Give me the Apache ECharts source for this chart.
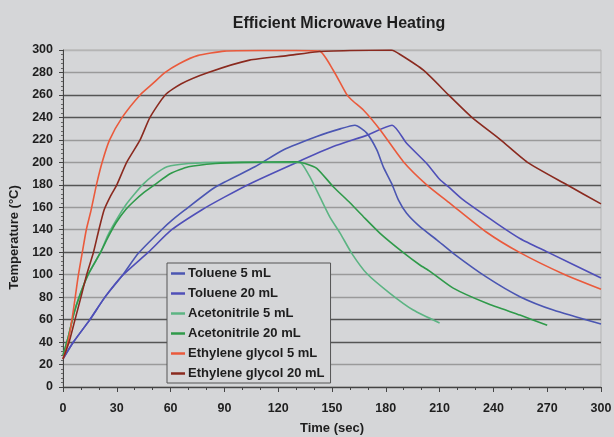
<!DOCTYPE html>
<html>
<head>
<meta charset="utf-8">
<script src="https://cdn.jsdelivr.net/npm/echarts@6/dist/echarts.min.js"></script>
<style>
  html, body { margin: 0; padding: 0; background: #d5d6d8; }
  #chart { width: 614px; height: 437px; }
</style>
</head>
<body>
<div id="chart"></div>
<script>
// series names, in legend order
var seriesNames = ['Toluene 5 mL', 'Toluene 20 mL', 'Acetonitrile 5 mL', 'Acetonitrile 20 mL', 'Ethylene glycol 5 mL', 'Ethylene glycol 20 mL'];

// [time (sec), temperature (°C)]
var toluene5 = [[0,25],[5.8,40],[15,60],[23.4,80],[33,99],[42,119],[55,140],[61,148.7],[68,157.6],[85,178],[107,196],[122.8,211],[141.5,223],[155,230],[162.8,233],[169.4,226],[175,211],[178.6,196],[183.3,181],[187,166.5],[191.6,154.6],[199,142.7],[208.4,131],[217.6,119],[236,98],[254.8,80.4],[273.4,68.5],[300,56]];
var toluene20 = [[0,25],[5.8,40],[15,60],[23.4,80],[33,99],[47.6,120],[60.6,140],[77.3,157.6],[90,169],[104.3,181],[130,199.7],[150.7,214],[169.3,224],[183.5,233],[191.6,217],[202.8,199],[210,185],[215.8,177],[223.2,166.5],[241.8,145.7],[255,132],[269.7,120.5],[300,97]];
var acetonitrile5 = [[0,28],[3,45],[6,65],[9,80],[14,100],[21,120],[25,135],[29.5,148],[35,162],[40,172],[45,181],[50,188],[58,196],[70,199],[90,200],[130,200],[133,199],[137.7,187],[143.3,169],[148.9,151],[154.5,137],[161,119],[169.4,101],[182.3,83.4],[195.3,68.5],[210,57]];
var acetonitrile20 = [[0,28],[3,45],[6,65],[9,80],[14,100],[21,120],[25,133],[29.5,146],[35,158],[40,166],[45,173],[51,180],[60,190],[70,196],[85,199],[100,200],[130,200.5],[135,199],[141.5,194.7],[150.7,178.3],[160,164],[167.5,151.6],[176.8,136.8],[189.8,119.6],[199,108.6],[204.6,103],[217.6,88],[236.3,74.5],[254.8,64],[270,55]];
var glycol5 = [[0,25],[1.5,32],[3,42],[5,60],[7,82],[8.6,100],[11,122],[13,140],[15.6,157],[18.8,181],[22,201],[26,220],[33,240],[43,260],[50,270],[57,280],[65,288],[75,295],[90,299],[110,299.5],[130,299.5],[143,299],[150.7,282],[158,261],[161,255.5],[167.5,246.6],[176.8,229],[189.8,200.6],[202.8,180],[215.8,163.5],[236,138],[254.8,119.6],[279,100.6],[300,87]];
var glycol20 = [[0,25],[3.4,40],[6.7,60],[10,80],[13.2,100],[17,120],[20,140],[23,158],[26.5,170],[30,180],[35.5,200],[43,220],[48.5,240],[57,260],[66,270],[81,280],[104,291],[125,295],[142,298.5],[160,299.5],[183,300],[188,296],[201,282],[215,260],[228,240],[244,220],[259,200],[281,180],[300,163]];

var seriesData = [toluene5, toluene20, acetonitrile5, acetonitrile20, glycol5, glycol20];
var colors = ['#4b56b2', '#4f4fb8', '#5cb483', '#2f9a4a', '#ea5a3c', '#8a2a1f'];

// grid line shades as they appear in the picture (0, 20, ... 300)
var gridShades = ['#555', '#9a9a9a', '#555', '#555', '#9a9a9a', '#9a9a9a', '#555', '#9a9a9a', '#9a9a9a', '#555', '#9a9a9a', '#9a9a9a', '#555', '#555', '#9a9a9a', '#b5b5b5'];

var font = 'Liberation Sans, Arial, sans-serif';
var chart = echarts.init(document.getElementById('chart'));

var option = {
  backgroundColor: '#d5d6d8',
  animation: false,
  color: colors,
  title: {
    text: 'Efficient Microwave Heating',
    left: 334,
    textAlign: 'center',
    top: 11,
    textStyle: { fontFamily: font, fontSize: 16, fontWeight: 'bold', color: '#1e1e1e' }
  },
  grid: {
    left: 63, right: 13, top: 50, bottom: 50,
    outerBoundsMode: 'none',
    show: true, borderColor: '#b3b3b3', borderWidth: 1
  },
  legend: {
    orient: 'vertical',
    left: 167, top: 263,
    data: seriesNames,
    icon: 'rect',
    itemWidth: 14, itemHeight: 2.5,
    itemGap: 7,
    padding: [4, 6, 3, 4],
    borderColor: '#555', borderWidth: 1,
    backgroundColor: '#d5d6d8',
    textStyle: { fontFamily: font, fontSize: 13, fontWeight: 'bold', color: '#1e1e1e', lineHeight: 12, padding: [0, 0, 0, -2] }
  },
  xAxis: {
    type: 'value',
    min: 0, max: 300, interval: 30,
    name: 'Time (sec)',
    nameLocation: 'middle',
    nameGap: 35,
    nameTextStyle: { fontFamily: font, fontSize: 13, fontWeight: 'bold', color: '#1e1e1e' },
    axisLine: { lineStyle: { color: '#444', width: 1 } },
    axisTick: { length: 5, lineStyle: { color: '#444' } },
    minorTick: { show: true, splitNumber: 3, length: 3, lineStyle: { color: '#444' } },
    axisLabel: { fontFamily: font, fontSize: 12.5, fontWeight: 'bold', color: '#1e1e1e', margin: 15 },
    splitLine: { show: false }
  },
  yAxis: {
    type: 'value',
    min: 0, max: 300, interval: 20,
    name: 'Temperature (°C)',
    nameLocation: 'middle',
    nameGap: 38,
    nameTextStyle: { fontFamily: font, fontSize: 13, fontWeight: 'bold', color: '#1e1e1e', padding: [0, 38, 0, 0] },
    axisLine: { show: true, lineStyle: { color: '#444', width: 1 } },
    axisTick: { show: true, length: 4, lineStyle: { color: '#444' } },
    minorTick: { show: true, splitNumber: 5, length: 2, lineStyle: { color: '#666' } },
    axisLabel: { fontFamily: font, fontSize: 12.5, fontWeight: 'bold', color: '#1e1e1e', margin: 10 },
    splitLine: { show: true, lineStyle: { color: gridShades, width: 1.3 } }
  },
  series: seriesNames.map(function (name, i) {
    return {
      name: name,
      type: 'line',
      data: seriesData[i],
      showSymbol: false,
      smooth: 0.2,
      lineStyle: { width: 1.6, color: colors[i] }
    };
  })
};

chart.setOption(option);
</script>
</body>
</html>
